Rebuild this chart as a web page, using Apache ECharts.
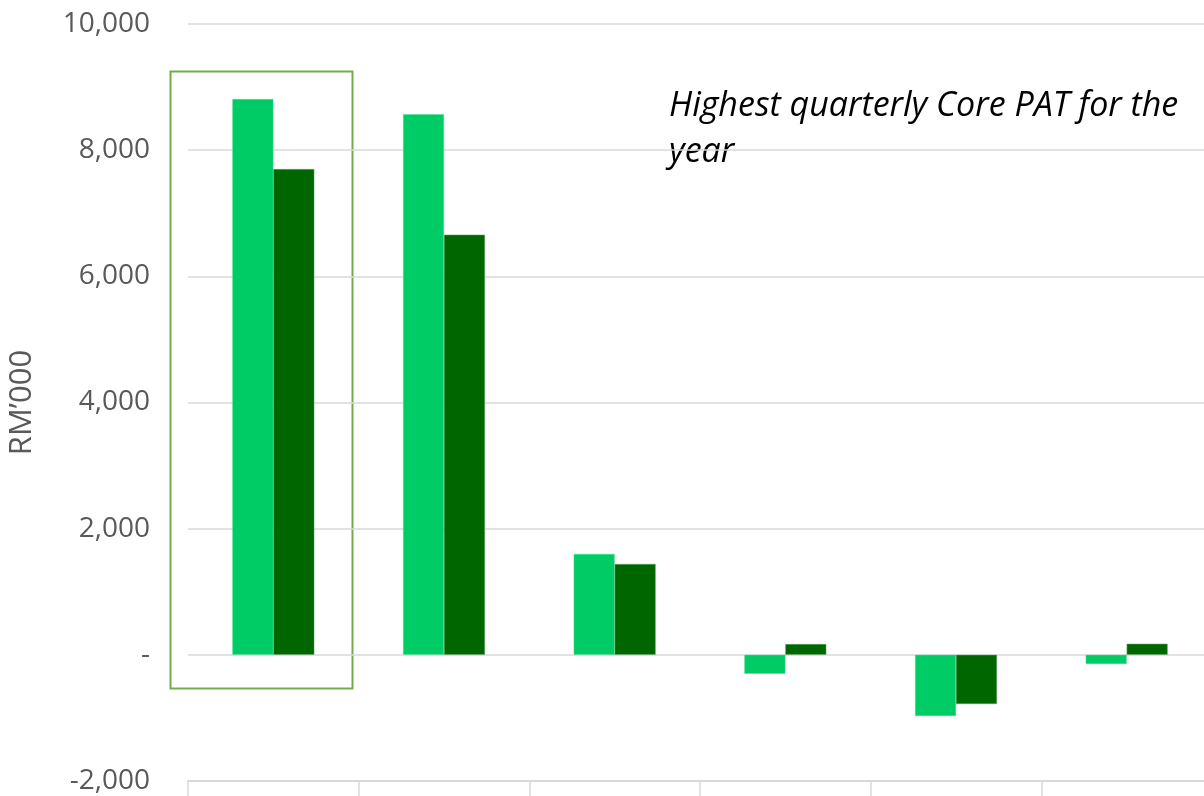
<!DOCTYPE html>
<html><head><meta charset="utf-8">
<script src="https://cdn.jsdelivr.net/npm/echarts@6/dist/echarts.min.js"></script>
<style>html,body{margin:0;padding:0;background:#fff}#c{width:1204px;height:796px}</style>
</head><body><div id="c"></div>
<script>
const categories = ['Q1', 'Q2', 'Q3', 'Q4', 'Q5', 'Q6'];
const seriesA = [8810, 8570, 1600, -300, -970, -145];
const seriesB = [7700, 6660, 1440, 170, -780, 175];
const yTicks = {min: -2000, max: 10000, interval: 2000};
const note = 'Highest quarterly Core PAT for the\nyear';
const axisName = 'RM\u2019000';

const chart = echarts.init(document.getElementById('c'));
chart.setOption({
  animation: false,
  grid: {left: 188, right: -8, top: 24, bottom: 15, containLabel: false, outerBoundsMode: 'none'},
  xAxis: {
    type: 'category', data: categories,
    axisLine: {show: true, onZero: false, lineStyle: {color: '#d9d9d9', width: 2}},
    axisTick: {show: true, length: 16, lineStyle: {color: '#d9d9d9', width: 1.5}},
    axisLabel: {show: false},
    splitLine: {show: false}
  },
  yAxis: {
    type: 'value', min: yTicks.min, max: yTicks.max, interval: yTicks.interval,
    name: axisName, nameLocation: 'middle', nameGap: 150, nameRotate: 90,
    nameTextStyle: {fontFamily: 'Open Sans', fontSize: 31, color: '#595959'},
    axisLine: {show: false}, axisTick: {show: false},
    axisLabel: {
      fontFamily: 'Open Sans', fontSize: 28, color: '#595959', margin: 38,
      formatter: v => v === 0 ? '-' : v.toLocaleString('en-US')
    },
    splitLine: {lineStyle: {color: '#d9d9d9', width: 1.5}}
  },
  series: [
    {type: 'bar', data: seriesA, barWidth: '24%', barGap: '0%',
     itemStyle: {color: '#00cc66', borderColor: '#4ddf94', borderWidth: 0.5}},
    {type: 'bar', data: seriesB, barWidth: '24%', barGap: '0%',
     itemStyle: {color: '#006600', borderColor: '#66a366', borderWidth: 0.5}}
  ],
  graphic: [
    {type: 'rect', shape: {x: 170.5, y: 71.5, width: 182, height: 617},
     style: {fill: 'none', stroke: '#70ad47', lineWidth: 2}},
    {type: 'text', left: 669, top: 83,
     style: {text: note, font: 'italic 34px "Open Sans"', fill: '#000', lineHeight: 46}}
  ]
});
</script></body></html>
